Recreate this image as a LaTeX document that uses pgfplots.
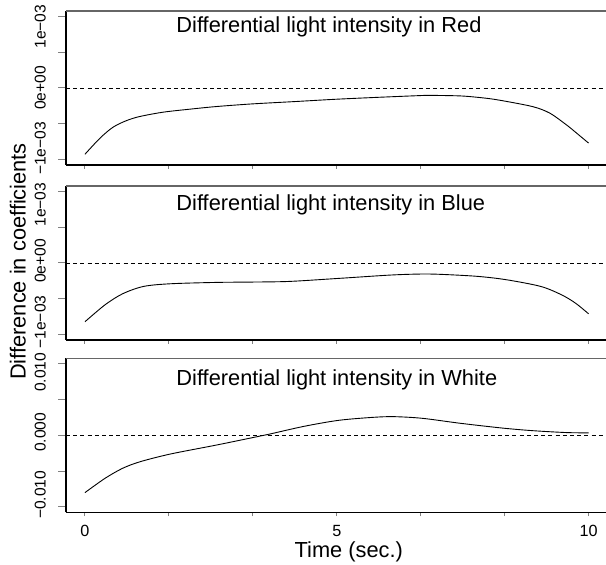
\documentclass[border=0pt]{standalone}
\usepackage{fontspec}
\setmainfont{Liberation Sans}
\usepackage{pgfplots}
\usepackage{pgfplotstable}
\pgfplotsset{compat=1.18}

\pgfplotstableread{
x y
0 -0.000925
0.30 -0.000699
0.56 -0.000546
0.83 -0.000454
1.09 -0.000398
1.55 -0.000338
2.08 -0.000296
2.61 -0.000259
3.327 -0.000222
4.16 -0.000190
4.99 -0.000157
5.83 -0.000130
6.66 -0.000106
6.84 -0.000103
7.46 -0.000111
7.9 -0.000138
8.23 -0.000170
8.89 -0.000260
9.23 -0.000351
9.56 -0.000514
9.78 -0.000640
10 -0.000769
}\redtab

\pgfplotstableread{
x y
0 -0.000820
0.40 -0.000583
0.75 -0.000429
1.165 -0.000327
1.70 -0.000290
2.62 -0.000271
3.36 -0.000266
4.07 -0.000257
5.04 -0.000215
6.08 -0.000168
6.70 -0.000154
7.11 -0.000160
7.80 -0.000187
8.37 -0.000234
9.05 -0.000327
9.46 -0.000443
9.74 -0.000560
10.0 -0.000709
}\bluetab

\pgfplotstableread{
x y
0 -0.00800
0.40 -0.00600
0.75 -0.00460
1.10 -0.00368
1.70 -0.00261
2.62 -0.00135
3.36 -0.00028
3.65 0.00014
4.35 0.00125
5.04 0.00209
5.73 0.00251
6.14 0.00260
6.70 0.00237
7.46 0.00167
8.30 0.00100
8.9 0.00064
9.56 0.00038
10.0 0.00034
}\whitetab

\pgfplotsset{
  panel/.style={
    scale only axis, width=270pt, height=77pt,
    xmin=-0.377, xmax=10.347,
    clip=false,
    axis x line=bottom, axis y line=left,
    axis line style={-, line width=0.6pt},
    tick align=outside,
    major tick length=4pt,
    xtick={0,1.6667,3.3333,5,6.6667,8.3333,10},
    xtick style={line width=0.5pt, /pgfplots/major tick length=2pt},
    ytick style={line width=0.5pt},
    scaled y ticks=false,
    yticklabels={},
    xticklabel style={anchor=base, font=\fontsize{8.1pt}{9pt}\selectfont},
    xticklabel shift=8.35pt,
    anchor=south west,
  },
  curve/.style={black, line width=0.45pt, smooth, no markers},
  zline/.style={black, line width=0.45pt, dash pattern=on 2pt off 1.6pt},
}
\tikzset{
  ylab/.style={rotate=90, anchor=base, font=\fontsize{7.8pt}{9pt}\selectfont},
  ttl/.style={anchor=base west, font=\fontsize{10.9pt}{13pt}\selectfont},
}

\begin{document}
\begin{tikzpicture}
% Panel 1: Red
\begin{axis}[panel, at={(33pt,200pt)},
  ymin=-0.001075, ymax=0.001075,
  ytick={-0.001,-0.0005,0,0.0005,0.001},
  xticklabels={}]
  \addplot[zline] coordinates {(-0.377,0) (10.347,0)};
  \addplot[curve] table[x=x,y=y] {\redtab};
  \draw[gray!80!black, line width=0.6pt] (rel axis cs:0,1) -- (rel axis cs:1,1);
  \node[ttl] at (axis cs:1.677,0.000768) {Differential light intensity in Red};
  \node[ylab] at (axis cs:-0.784,0.000855) {1e−03};
  \node[ylab] at (axis cs:-0.784,0) {0e+00};
  \node[ylab] at (axis cs:-0.784,-0.000845) {−1e−03};
\end{axis}
% Panel 2: Blue
\begin{axis}[panel, at={(33pt,112.5pt)},
  ymin=-0.001075, ymax=0.001075,
  ytick={-0.001,-0.0005,0,0.0005,0.001},
  xticklabels={}]
  \addplot[zline] coordinates {(-0.377,0) (10.347,0)};
  \addplot[curve] table[x=x,y=y] {\bluetab};
  \draw[gray!80!black, line width=0.6pt] (rel axis cs:0,1) -- (rel axis cs:1,1);
  \node[ttl] at (axis cs:1.677,0.000736) {Differential light intensity in Blue};
  \node[ylab] at (axis cs:-0.784,0.000815) {1e−03};
  \node[ylab] at (axis cs:-0.784,0.00003) {0e+00};
  \node[ylab] at (axis cs:-0.784,-0.000825) {−1e−03};
\end{axis}
% Panel 3: White
\begin{axis}[panel, at={(33pt,26.35pt)},
  ymin=-0.01075, ymax=0.01075,
  ytick={-0.01,-0.005,0,0.005,0.01},
  xticklabels={0,,,5,,,10}]
  \addplot[zline] coordinates {(-0.377,0) (10.347,0)};
  \addplot[curve] table[x=x,y=y] {\whitetab};
  \draw[gray!80!black, line width=0.6pt] (rel axis cs:0,1) -- (rel axis cs:1,1);
  \node[ttl] at (axis cs:1.677,0.00692) {Differential light intensity in White};
  \node[ylab] at (axis cs:-0.784,0.0088) {0.010};
  \node[ylab] at (axis cs:-0.784,0.0004) {0.000};
  \node[ylab] at (axis cs:-0.784,-0.0083) {−0.010};
\end{axis}
\node[rotate=90, anchor=base, font=\fontsize{10.9pt}{13pt}\selectfont] at (12.75pt,151.75pt) {Difference in coefficients};
\node[anchor=base, font=\fontsize{10.9pt}{13pt}\selectfont] at (174.4pt,3.8pt) {Time (sec.)};
\pgfresetboundingbox
\path (0,0) rectangle (303pt,282.5pt);
\end{tikzpicture}
\end{document}
